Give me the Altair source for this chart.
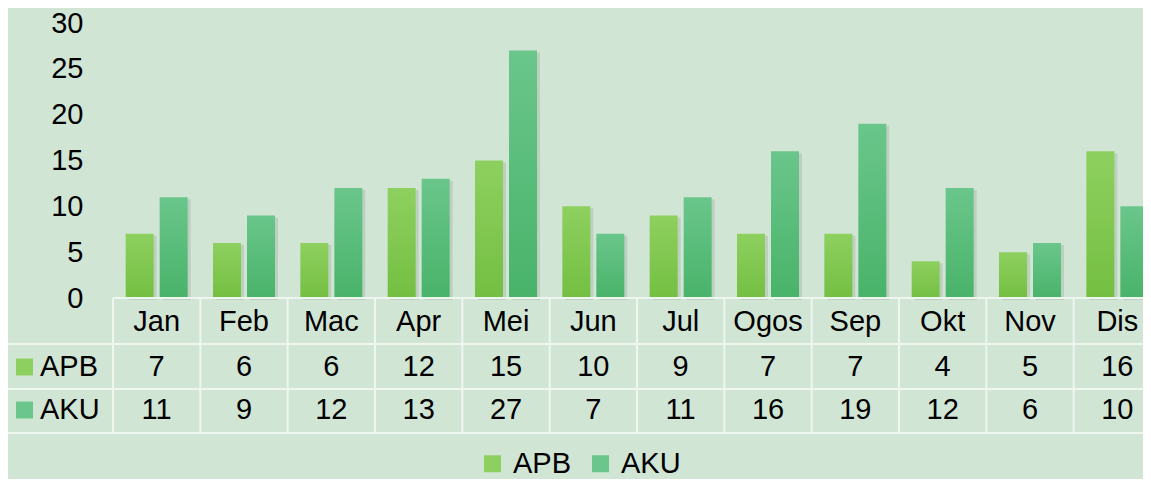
import altair as alt
import pandas as pd

months = ["Jan", "Feb", "Mac", "Apr", "Mei", "Jun", "Jul", "Ogos", "Sep", "Okt", "Nov", "Dis"]
series = ["APB", "AKU"]
apb = [7, 6, 6, 12, 15, 10, 9, 7, 7, 4, 5, 16]
aku = [11, 9, 12, 13, 27, 7, 11, 16, 19, 12, 6, 10]
y_ticks = [0, 5, 10, 15, 20, 25, 30]

rows = []
for m, a, b in zip(months, apb, aku):
    rows.append({"month": m, "series": "APB", "value": a})
    rows.append({"month": m, "series": "AKU", "value": b})
df = pd.DataFrame(rows)
mdf = pd.DataFrame({"month": months})
sdf = pd.DataFrame({"series": series})

FONT = "Liberation Sans"
FS = 29
APB_TOP, APB_BOT = "#8ed05f", "#74bf42"
AKU_TOP, AKU_BOT = "#6ac68b", "#49b36a"
GRID = "#eef6f0"
XR = 1048
H = 275

def grad(top, bot):
    return alt.Gradient(gradient="linear",
                        stops=[alt.GradientStop(color=top, offset=0),
                               alt.GradientStop(color=bot, offset=1)],
                        x1=0, x2=0, y1=0, y2=1)

xscale = alt.Scale(domain=months, range=[0, XR], paddingInner=0, paddingOuter=0)
xenc = alt.X("month:N", sort=months, axis=None, scale=xscale)
yenc = alt.Y("value:Q", scale=alt.Scale(domain=[0, 30], nice=False),
             axis=alt.Axis(values=y_ticks, grid=False, domain=False, ticks=False, tickSize=0,
                           labelPadding=30, labelFontSize=FS, labelFont=FONT, labelColor="#000",
                           title=None))

base = alt.Chart(df)
layers = []
offsets = {"APB": -17, "AKU": 17}
colors = {"APB": (APB_TOP, APB_BOT), "AKU": (AKU_TOP, AKU_BOT)}
# shadows
for s in series:
    layers.append(base.transform_filter(alt.datum.series == s).mark_bar(
        width=28, xOffset=offsets[s] + 3, yOffset=2, color="#556655", opacity=0.16
    ).encode(x=xenc, y=yenc))
for s in series:
    layers.append(base.transform_filter(alt.datum.series == s).mark_bar(
        width=28, xOffset=offsets[s], fill=grad(*colors[s])
    ).encode(x=xenc, y=yenc))

# table grid
mbase = alt.Chart(mdf)
layers.append(mbase.mark_rule(color=GRID, strokeWidth=2).encode(
    x=alt.X("month:N", sort=months, axis=None, bandPosition=0, scale=xscale),
    y=alt.value(H), y2=alt.value(H + 135)))
hl = [(0, H), (-106, H + 46), (-106, H + 91), (-106, H + 135)]
for x0, yy in hl:
    layers.append(alt.Chart(sdf).mark_rule(color=GRID, strokeWidth=2).encode(
        x=alt.value(x0), x2=alt.value(XR), y=alt.value(yy)))
layers.append(alt.Chart(sdf).mark_rule(color=GRID, strokeWidth=2).encode(
    x=alt.value(-106), y=alt.value(H + 46), y2=alt.value(H + 135)))

# month row
layers.append(mbase.mark_text(font=FONT, fontSize=FS, color="#000", baseline="middle").encode(
    x=xenc, y=alt.value(H + 24), text="month:N"))
row_y = {"APB": H + 69, "AKU": H + 112}
cscale = alt.Scale(domain=series, range=[APB_TOP, AKU_TOP])
for i, s in enumerate(series):
    layers.append(base.transform_filter(alt.datum.series == s).mark_text(
        font=FONT, fontSize=FS, color="#000", baseline="middle").encode(
        x=xenc, y=alt.value(row_y[s]), text="value:Q"))
    sb = alt.Chart(sdf).transform_filter(alt.datum.series == s)
    layers.append(sb.mark_text(font=FONT, fontSize=FS, color="#000", baseline="middle",
                               align="left").encode(
        x=alt.value(-73), y=alt.value(row_y[s]), text="series:N"))
    layers.append(sb.mark_square(size=289, opacity=1, filled=True).encode(
        x=alt.value(-88.5), y=alt.value(row_y[s]),
        color=alt.Color("series:N", scale=cscale,
                        legend=alt.Legend(orient="none", legendX=365, legendY=426,
                                          direction="horizontal", title=None,
                                          symbolType="square", symbolSize=289,
                                          symbolStrokeWidth=0, labelFontSize=FS,
                                          labelFont=FONT, labelColor="#000",
                                          labelOffset=6, columnPadding=14))))

chart = alt.layer(*layers).properties(
    width=1030, height=H,
    autosize=alt.AutoSizeParams(type="none"),
    padding={"left": 105, "top": 15, "right": 0, "bottom": 181},
    background="#d1e5d5",
).configure_view(stroke=None)

chart.save("out.html", embed_options={"renderer": "svg", "actions": False})
